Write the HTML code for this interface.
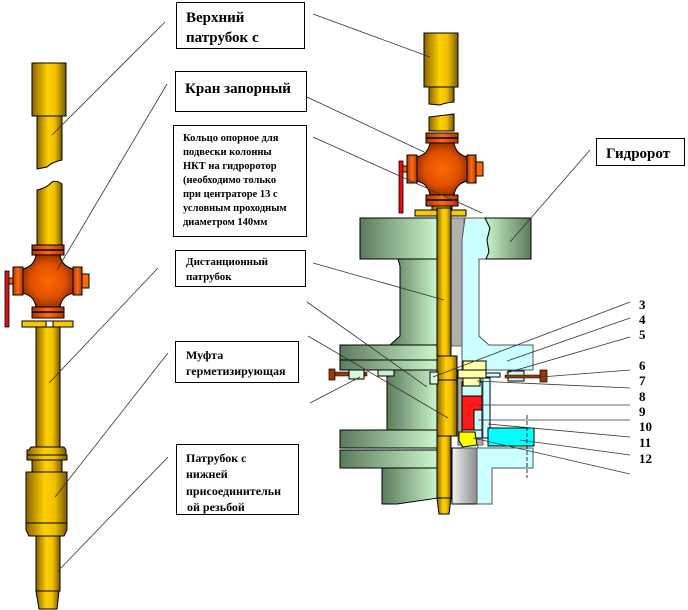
<!DOCTYPE html>
<html><head><meta charset="utf-8"><style>
html,body{margin:0;padding:0;background:#fff;}
svg{display:block;}
text{font-family:"Liberation Serif","DejaVu Serif",serif;font-weight:bold;fill:#000;}
</style></head><body>
<svg width="688" height="610" viewBox="0 0 688 610" xmlns="http://www.w3.org/2000/svg">
<defs>
<linearGradient id="gold" x1="0" x2="1" y1="0" y2="0">
<stop offset="0" stop-color="#8a6400"/><stop offset="0.45" stop-color="#ffd000"/><stop offset="0.7" stop-color="#f0c000"/><stop offset="1" stop-color="#7a5a00"/></linearGradient>
<radialGradient id="org" cx="0.5" cy="0.5" r="0.55">
<stop offset="0" stop-color="#ff6a00"/><stop offset="0.6" stop-color="#e05000"/><stop offset="1" stop-color="#8a2a00"/></radialGradient>
<linearGradient id="orgH" x1="0" x2="1"><stop offset="0" stop-color="#b03800"/><stop offset="0.5" stop-color="#ff6a10"/><stop offset="1" stop-color="#b03800"/></linearGradient>
<linearGradient id="grn" x1="0" x2="1"><stop offset="0" stop-color="#5c7a5c"/><stop offset="1" stop-color="#ccf7cc"/></linearGradient>
<linearGradient id="grnR" x1="0" x2="1"><stop offset="0" stop-color="#ccf7cc"/><stop offset="1" stop-color="#5c7a5c"/></linearGradient>
<linearGradient id="gray" x1="0" x2="1"><stop offset="0" stop-color="#f2f2f2"/><stop offset="1" stop-color="#8c8c8c"/></linearGradient>
<g id="valve">
 <rect x="-16" y="-36" width="32" height="10" fill="url(#orgH)" stroke="#000"/>
 <line x1="-16" y1="-31" x2="16" y2="-31" stroke="#000" stroke-width="1.5"/>
 <rect x="-16" y="26" width="32" height="11" fill="url(#orgH)" stroke="#000"/>
 <line x1="-16" y1="31" x2="16" y2="31" stroke="#000" stroke-width="1.5"/>
 <path d="M-12,-26 L12,-26 Q14,-14 26,-12 L26,12 Q14,14 12,26 L-12,26 Q-14,14 -26,12 L-26,-12 Q-14,-14 -12,-26Z" fill="url(#org)" stroke="#000"/>
 <rect x="-35" y="-14" width="10" height="28" fill="url(#orgH)" stroke="#000"/>
 <rect x="25" y="-14" width="9" height="28" fill="url(#orgH)" stroke="#000"/>
 <rect x="34" y="-7" width="7" height="14" fill="#ff6a00" stroke="#000"/>
 <rect x="-41" y="-3" width="6" height="6" fill="#ff6a00" stroke="#000"/>
</g>
</defs>

<!-- LEFT ASSEMBLY -->
<rect x="32" y="63" width="34" height="53" fill="url(#gold)" stroke="#000"/>
<path d="M37,116 L62,116 L62,160 Q52,162 47,167 Q42,168 37,169 Z" fill="url(#gold)" stroke="#000"/>
<path d="M37,190 Q47,188 52,182 Q57,180 62,184 L62,245 L37,245 Z" fill="url(#gold)" stroke="#000"/>
<use href="#valve" x="48" y="281"/>
<rect x="5" y="271" width="4" height="56" fill="#e01010" stroke="#000" stroke-width="0.8"/>
<rect x="22" y="321" width="51" height="6" fill="#f8c800" stroke="#000"/>
<rect x="46" y="321" width="7" height="6" fill="#fff" stroke="#000"/>
<rect x="36" y="327" width="24" height="120" fill="url(#gold)" stroke="#000"/>
<path d="M29,450 L31,447 L64,447 L66,450 L66,460 L27,460 L27,450Z" fill="url(#gold)" stroke="#000"/>
<rect x="27" y="455" width="40" height="5" fill="url(#gold)" stroke="#000"/>
<rect x="32" y="460" width="30" height="12" fill="url(#gold)" stroke="#000"/>
<path d="M26,472 L67,472 L67,530 L64,536 L29,536 L26,530Z" fill="url(#gold)" stroke="#000"/>
<line x1="26" y1="523" x2="67" y2="523" stroke="#000"/>
<rect x="36" y="536" width="24" height="55" fill="url(#gold)" stroke="#000"/>
<path d="M36,591 L59,591 L57,609 L39,609Z" fill="url(#gold)" stroke="#000"/>

<!-- RIGHT TOP PIPE + VALVE -->
<rect x="424" y="33" width="34" height="54" fill="url(#gold)" stroke="#000"/>
<path d="M429,87 L454,87 L454,102 Q444,103 440,105 L429,104Z" fill="url(#gold)" stroke="#000"/>
<path d="M429,117 Q438,116 446,115 L454,114 L454,131 L429,131Z" fill="url(#gold)" stroke="#000"/>
<use href="#valve" x="442" y="169"/>
<rect x="399" y="161" width="4" height="52" fill="#e01010" stroke="#000" stroke-width="0.8"/>
<rect x="432" y="206" width="20" height="4" fill="url(#gold)" stroke="#000"/>
<rect x="415" y="210" width="51" height="6" fill="#f8c800" stroke="#000"/>

<!-- HYDROROTOR LEFT (green) -->
<rect x="360" y="218" width="78" height="41" fill="url(#grn)" stroke="#000"/>
<path d="M398,259 L438,259 L438,345 L390,345 L400,336 L400,266Z" fill="url(#grn)" stroke="#000"/>
<rect x="340" y="345" width="98" height="25" fill="url(#grn)" stroke="#000"/>
<line x1="340" y1="360" x2="438" y2="360" stroke="#000"/>
<rect x="387" y="370" width="51" height="61" fill="url(#grn)" stroke="#000"/>
<rect x="340" y="430" width="98" height="18" fill="url(#grn)" stroke="#000"/>
<rect x="340" y="450" width="98" height="18" fill="url(#grn)" stroke="#000"/>
<path d="M382,468 L438,468 L438,498 L397,504 L382,504Z" fill="url(#grn)" stroke="#000"/>
<!-- bolts left -->
<rect x="329" y="369" width="6" height="11" fill="#9a3a00" stroke="#000" stroke-width="0.7"/>
<rect x="335" y="372" width="32" height="4" fill="#9a3a00" stroke="#000" stroke-width="0.5"/>
<rect x="349" y="370" width="15" height="9" fill="#d8f8d8" stroke="#000"/>
<rect x="378" y="370" width="16" height="6" fill="#ccf0cc" stroke="#000"/>

<!-- gray liner -->
<rect x="450" y="218" width="14" height="128" fill="#b0b0b0" stroke="#666"/>
<rect x="452" y="448" width="25" height="56" fill="url(#gray)" stroke="#000"/>
<!-- cyan right body -->
<path d="M465,218 L485,218 L490,228 L487,240 L489,252 L486,259 L479,259 L479,336 L489,345 L533,345 L533,370 L462,370 L462,240Z" fill="#ccffff" stroke="#555"/>
<path d="M485,218 L531,218 L531,259 L486,259 L489,252 L487,240 L490,228Z" fill="url(#grnR)" stroke="#000"/>
<rect x="462" y="370" width="16" height="78" fill="#ccffff" stroke="#555"/>
<path d="M477,448 L533,448 L533,468 L492,468 L492,504 L477,504Z" fill="#ccffff" stroke="#555"/>
<rect x="481" y="378" width="9" height="60" fill="#ccffff" stroke="#000"/>
<rect x="458" y="375" width="25" height="70" fill="#aaa" stroke="#666"/>
<rect x="462" y="382" width="20" height="56" fill="#ccffff" stroke="#000"/>
<path d="M462,396 L482,396 L482,410 L474,410 L474,430 L462,430Z" fill="#ff1a1a" stroke="#000"/>
<path d="M474,410 L482,410 L482,430 L474,430Z" fill="#ccffff" stroke="#000"/>
<path d="M459,432 L475,432 L477,445 L463,447 L459,441Z" fill="#ffff00" stroke="#000"/>
<rect x="488" y="428" width="46" height="18" fill="#00ffff" stroke="#000"/>
<line x1="527" y1="415" x2="527" y2="478" stroke="#000" stroke-dasharray="4,2" stroke-width="0.8"/>
<!-- yellow rings 7/8 -->
<rect x="463" y="361" width="23" height="9" fill="#ffffaa" stroke="#000"/>
<rect x="458" y="370" width="28" height="8" fill="#ffffaa" stroke="#000"/>
<rect x="463" y="378" width="17" height="8" fill="#ffffaa" stroke="#000"/>
<rect x="486" y="373" width="14" height="4" fill="#ccffff" stroke="#000"/>
<rect x="508" y="371" width="16" height="10" fill="#ccffff" stroke="#000"/>
<rect x="505" y="375" width="36" height="3" fill="#9a3a00" stroke="#000" stroke-width="0.5"/>
<rect x="540" y="370" width="7" height="12" fill="#9a3a00" stroke="#000" stroke-width="0.7"/>

<!-- shaft -->
<rect x="437" y="208" width="14" height="290" fill="url(#gold)" stroke="#000"/>
<path d="M437,498 L451,498 L449,514 L439,514Z" fill="url(#gold)" stroke="#000"/>
<rect x="437" y="356" width="20" height="80" fill="url(#gold)" stroke="#000"/>
<line x1="437" y1="380" x2="457" y2="380" stroke="#000"/>
<rect x="430" y="372" width="8" height="12" fill="#d8f8d8" stroke="#000"/>

<!-- LEADERS -->
<g stroke="#333" stroke-width="0.8" fill="none">
<line x1="165" y1="22" x2="52" y2="135"/>
<line x1="167" y1="84" x2="57" y2="270"/>
<line x1="158" y1="268" x2="49" y2="383"/>
<line x1="168" y1="353" x2="55" y2="497"/>
<line x1="168" y1="457" x2="58" y2="571"/>
<line x1="313" y1="14" x2="430" y2="57"/>
<line x1="307" y1="97" x2="424" y2="152"/>
<line x1="313" y1="137" x2="482" y2="213"/>
<line x1="313" y1="263" x2="444" y2="300"/>
<line x1="307" y1="302" x2="427" y2="387"/>
<line x1="308" y1="336" x2="448" y2="418"/>
<line x1="310" y1="403" x2="360" y2="377"/>
<line x1="590" y1="150" x2="510" y2="242"/>
<line x1="630" y1="302" x2="433" y2="377"/>
<line x1="630" y1="318" x2="507" y2="361"/>
<line x1="630" y1="337" x2="506" y2="373"/>
<line x1="630" y1="370" x2="541" y2="377"/>
<line x1="630" y1="388" x2="477" y2="381"/>
<line x1="630" y1="405" x2="478" y2="405"/>
<line x1="630" y1="420" x2="478" y2="420"/>
<line x1="630" y1="437" x2="488" y2="424"/>
<line x1="630" y1="455" x2="520" y2="440"/>
<line x1="630" y1="474" x2="473" y2="438"/>
</g>

<!-- BOXES -->
<g fill="#fff" stroke="#000" stroke-width="1">
<rect x="176.5" y="2.5" width="128" height="46"/>
<rect x="175.5" y="71.5" width="131" height="40"/>
<rect x="173.5" y="125.5" width="133" height="111"/>
<rect x="175.5" y="250.5" width="130" height="36"/>
<rect x="175.5" y="341.5" width="123" height="41"/>
<rect x="176.5" y="444.5" width="122" height="70"/>
<rect x="596.5" y="138.5" width="88" height="27"/>
</g>
<text x="186" y="22" font-size="15">Верхний</text>
<text x="186" y="42" font-size="15">патрубок  с</text>
<text x="185" y="93" font-size="15">Кран запорный</text>
<g font-size="10.5">
<text x="183" y="141">Кольцо опорное для</text>
<text x="183" y="155">подвески колонны</text>
<text x="183" y="169">НКТ на гидроротор</text>
<text x="183" y="183">(необходимо  только</text>
<text x="183" y="197">при центраторе 13 с</text>
<text x="183" y="211">условным проходным</text>
<text x="183" y="225">диаметром  140мм</text>
</g>
<g font-size="11">
<text x="186" y="265">Дистанционный</text>
<text x="186" y="280">патрубок</text>
</g>
<g font-size="12">
<text x="186" y="359">Муфта</text>
<text x="186" y="375">герметизирующая</text>
<text x="186" y="462">Патрубок с</text>
<text x="186" y="478">нижней</text>
<text x="186" y="495">присоединительн</text>
<text x="187" y="511">ой резьбой</text>
</g>
<text x="606" y="158" font-size="15">Гидророт</text>
<g font-size="13">
<text x="639" y="309">3</text>
<text x="639" y="324">4</text>
<text x="639" y="339">5</text>
<text x="639" y="370">6</text>
<text x="639" y="385">7</text>
<text x="639" y="401">8</text>
<text x="639" y="416">9</text>
<text x="639" y="431">10</text>
<text x="639" y="447">11</text>
<text x="639" y="463">12</text>
</g>
</svg>
</body></html>
